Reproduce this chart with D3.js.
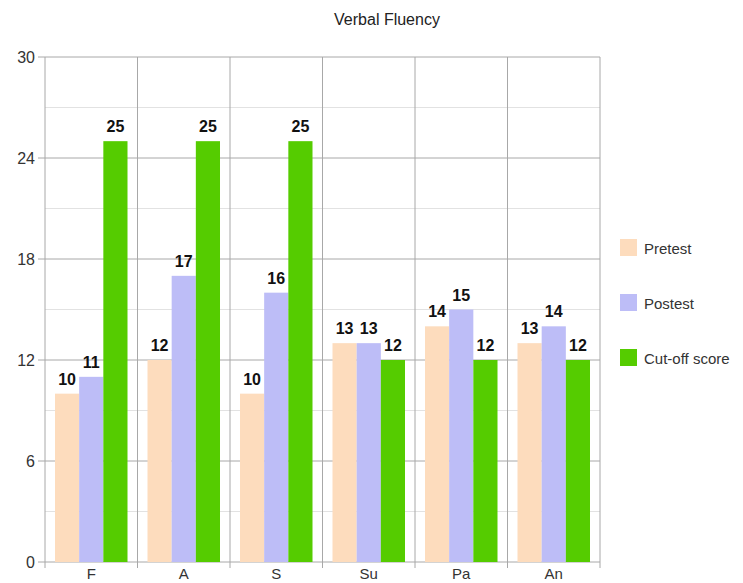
<!DOCTYPE html>
<html>
<head>
<meta charset="utf-8">
<script src="https://cdn.jsdelivr.net/npm/d3@7"></script>
<style>
body{margin:0;background:#fff;font-family:Arial,"Liberation Sans",sans-serif;}
</style>
</head>
<body>
<div id="plot"></div>
<script>
// Verbal fluency chart
var categories = ['F','A','S','Su','Pa','An'];
var seriesNames = ['Pretest','Postest','Cut-off score'];
var pretest = [10,12,10,13,14,13];
var postest = [11,17,16,13,15,14];
var cutoff = [25,25,25,12,12,12];
var yTicks = [0,6,12,18,24,30];
var colors = ['#fddcbd','#bdbdf7','#55cc00'];

var W = 743, H = 583;
var margin = {t:57,r:143,b:21,l:45};
var width = W-margin.l-margin.r,
	height = H-margin.t-margin.b;

var svg = d3.select('#plot').append('svg')
	.attr('width',W).attr('height',H);

svg.append('text')
	.attr('x',387).attr('y',25)
	.attr('text-anchor','middle')
	.style('font-size','16px').style('fill','#222')
	.text('Verbal Fluency');

var plot = svg.append('g')
	.attr('transform','translate('+margin.l+','+margin.t+')');

var x = d3.scaleBand().domain(categories).range([0,width]);
var x1 = d3.scaleBand().domain(seriesNames).range([10,x.bandwidth()-10]);
var y = d3.scaleLinear().domain([0,30]).range([height,0]);

// minor grid
plot.selectAll('.minor').data(d3.range(3,30,6)).enter().append('line')
	.attr('x1',0).attr('x2',width)
	.attr('y1',function(d){return y(d);}).attr('y2',function(d){return y(d);})
	.style('stroke','#e2e2e2').style('stroke-width','1px');

// major grid
plot.selectAll('.major').data(yTicks).enter().append('line')
	.attr('x1',-7).attr('x2',width)
	.attr('y1',function(d){return y(d);}).attr('y2',function(d){return y(d);})
	.style('stroke','#a8a8a8').style('stroke-width','1px');

// vertical separators
var bounds = categories.map(function(c){return x(c);}).concat([width]);
plot.selectAll('.sep').data(bounds).enter().append('line')
	.attr('x1',function(d){return d;}).attr('x2',function(d){return d;})
	.attr('y1',0).attr('y2',height+6)
	.style('stroke','#a8a8a8').style('stroke-width','1px');

var data = [pretest,postest,cutoff];
seriesNames.forEach(function(s,si){
	var g = plot.append('g');
	g.selectAll('rect').data(categories).enter().append('rect')
		.attr('x',function(c){return x(c)+x1(s);})
		.attr('width',x1.bandwidth())
		.attr('y',function(c,i){return y(data[si][i]);})
		.attr('height',function(c,i){return height-y(data[si][i]);})
		.style('fill',colors[si]);
	g.selectAll('text').data(categories).enter().append('text')
		.attr('x',function(c){return x(c)+x1(s)+x1.bandwidth()/2;})
		.attr('y',function(c,i){return y(data[si][i])-9;})
		.attr('text-anchor','middle')
		.style('font-size','16px').style('font-weight','bold').style('fill','#111')
		.text(function(c,i){return data[si][i];});
});

// y labels
plot.selectAll('.ylab').data(yTicks).enter().append('text')
	.attr('x',-10).attr('y',function(d){return y(d)+6;})
	.attr('text-anchor','end')
	.style('font-size','16px').style('fill','#333')
	.text(function(d){return d;});

// x labels
plot.selectAll('.xlab').data(categories).enter().append('text')
	.attr('x',function(c){return x(c)+x.bandwidth()/2;})
	.attr('y',height+17)
	.attr('text-anchor','middle')
	.style('font-size','15px').style('fill','#333')
	.text(function(c){return c;});

// legend
var legend = svg.append('g').attr('transform','translate(620,239)');
seriesNames.forEach(function(s,i){
	legend.append('rect').attr('x',0).attr('y',i*55).attr('width',17).attr('height',17)
		.style('fill',colors[i]);
	legend.append('text').attr('x',24).attr('y',i*55+15)
		.style('font-size','15px').style('fill','#333').text(s);
});
</script>
</body>
</html>
